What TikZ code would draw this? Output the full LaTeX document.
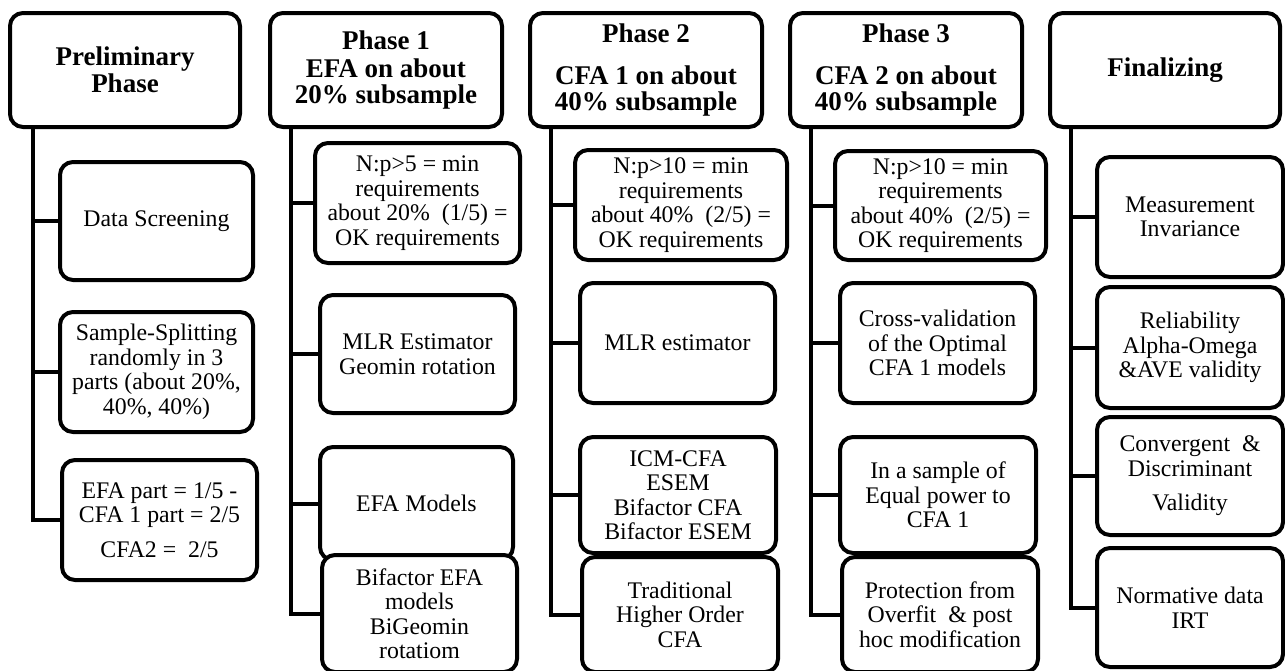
\documentclass[tikz,border=0pt]{standalone}
\usepackage{fontspec}
\setmainfont{Liberation Serif}

% boxes are placed by their corner coordinates (x1,y1)-(x2,y2), y pointing down
\newcommand\pbox[7]{%
  \pgfmathsetmacro\pbw{#4-#2}\pgfmathsetmacro\pbh{#5-#3}%
  \pgfmathsetmacro\pbx{(#2+#4)/2}\pgfmathsetmacro\pby{(#3+#5)/2}%
  \node[#6, minimum width=\pbw pt, minimum height=\pbh pt] (#1) at (\pbx,\pby) {#7};}

\tikzset{
  basebox/.style={draw, fill=white, rounded corners=13pt, line width=4pt,
    align=center, inner sep=0pt},
  headbox/.style={basebox, font=\fontsize{27}{26}\selectfont\bfseries},
  itembox/.style={basebox, font=\fontsize{23.8}{24.5}\selectfont},
  conn/.style={line width=4pt}
}

\begin{document}
\begin{tikzpicture}[x=1pt, y=-1pt]
\useasboundingbox (0,0) rectangle (1285,670);

% ---- Preliminary phase ----
\pbox{h1}{10}{13}{240}{127}{headbox}{Preliminary\\[1pt]Phase}
\pbox{c11}{60}{162}{253}{280}{itembox}{Data Screening}
\pbox{c12}{60}{312}{253}{432}{itembox}{Sample-Splitting\\randomly in 3\\parts (about 20\%,\\40\%, 40\%)}
\pbox{c13}{62}{460}{257}{580}{itembox}{EFA part = 1/5 -\\CFA 1 part = 2/5\\[10pt]CFA2 =\ \ 2/5}

% ---- Phase 1 ----
\pbox{h2}{270}{13}{502}{127}{headbox}{Phase 1\\[2pt]EFA on about\\20\% subsample}
\pbox{c21}{315}{143}{520}{263}{itembox}{N:p>5 = min\\requirements\\about 20\%\ \ (1/5) =\\OK requirements}
\pbox{c22}{320}{295}{515}{413}{itembox}{MLR Estimator\\Geomin rotation}
\pbox{c23}{320}{447}{513}{560}{itembox}{EFA Models}
\pbox{c24}{322}{555}{517}{672}{itembox}{Bifactor EFA\\models\\BiGeomin\\rotatiom}

% ---- Phase 2 ----
\pbox{h3}{530}{13}{762}{127}{headbox}{Phase 2\\[16pt]CFA 1 on about\\40\% subsample}
\pbox{c31}{575}{150}{787}{260}{itembox}{N:p>10 = min\\requirements\\about 40\%\ \ (2/5) =\\OK requirements}
\pbox{c32}{580}{283}{775}{403}{itembox}{MLR estimator}
\pbox{c33}{580}{437}{776}{553}{itembox}{ICM-CFA\\ESEM\\Bifactor CFA\\Bifactor ESEM}
\pbox{c34}{582}{557}{778}{672}{itembox}{Traditional\\Higher Order\\CFA}

% ---- Phase 3 ----
\pbox{h4}{790}{13}{1022}{127}{headbox}{Phase 3\\[16pt]CFA 2 on about\\40\% subsample}
\pbox{c41}{835}{151}{1046}{260}{itembox}{N:p>10 = min\\requirements\\about 40\%\ \ (2/5) =\\OK requirements}
\pbox{c42}{840}{283}{1035}{403}{itembox}{Cross-validation\\of the Optimal\\CFA 1 models}
\pbox{c43}{840}{437}{1036}{553}{itembox}{In a sample of\\Equal power to\\CFA 1}
\pbox{c44}{842}{557}{1038}{672}{itembox}{Protection from\\Overfit\ \ \& post\\hoc modification}

% ---- Finalizing ----
\pbox{h5}{1050}{13}{1280}{127}{headbox}{Finalizing}
\pbox{c51}{1097}{157}{1283}{277}{itembox}{Measurement\\Invariance}
\pbox{c52}{1097}{287}{1283}{408}{itembox}{Reliability\\Alpha-Omega\\\&AVE validity}
\pbox{c53}{1097}{417}{1283}{535}{itembox}{Convergent\ \ \&\\Discriminant\\[10pt]Validity}
\pbox{c54}{1097}{548}{1283}{667}{itembox}{Normative data\\IRT}

% ---- tree connectors: a spine under each header, a stub to each item ----
\foreach \c in {c11, c12, c13}
  \draw[conn] ([xshift=25pt]h1.south west) |- (\c.west);
\foreach \c in {c21, c22, c23, c24}
  \draw[conn] ([xshift=23pt]h2.south west) |- (\c.west);
\foreach \c in {c31, c32, c33, c34}
  \draw[conn] ([xshift=23pt]h3.south west) |- (\c.west);
\foreach \c in {c41, c42, c43, c44}
  \draw[conn] ([xshift=23pt]h4.south west) |- (\c.west);
\foreach \c in {c51, c52, c53, c54}
  \draw[conn] ([xshift=23pt]h5.south west) |- (\c.west);
\end{tikzpicture}
\end{document}
